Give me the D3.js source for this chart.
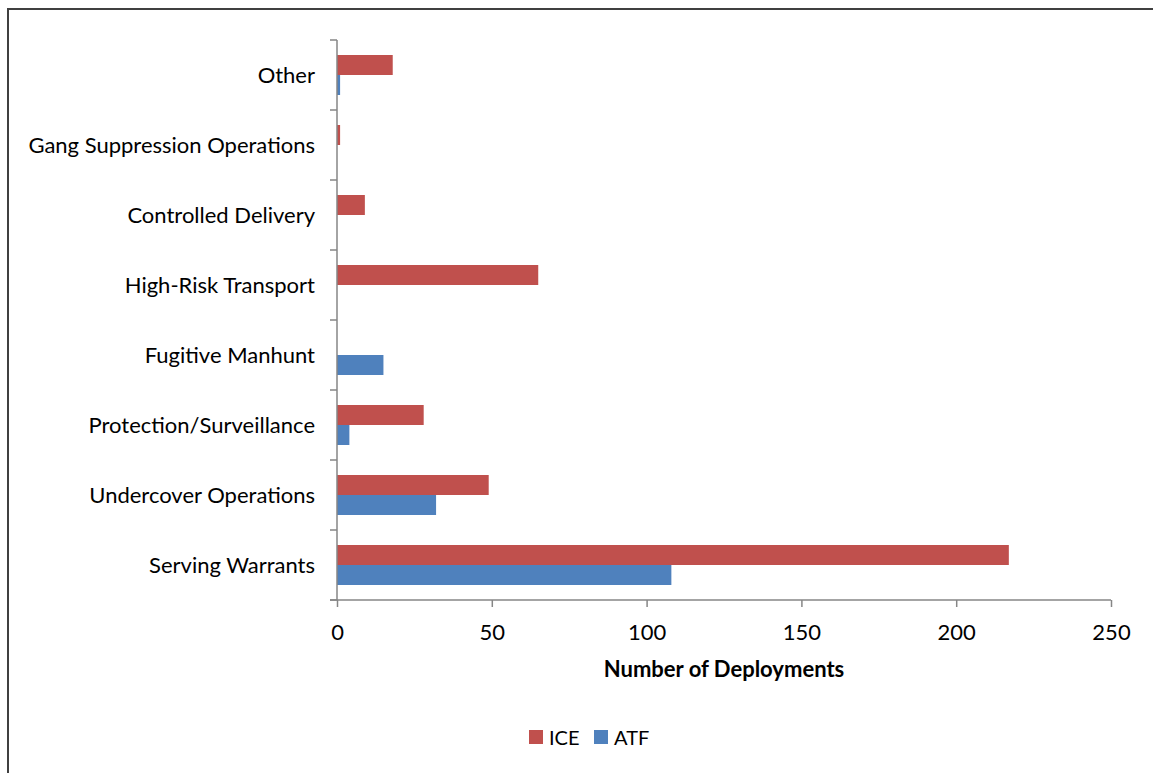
<!DOCTYPE html>
<html>
<head>
<meta charset="utf-8">
<script src="https://cdn.jsdelivr.net/npm/d3@7"></script>
<style>
  body { margin: 0; background: #fff; }
  svg { display: block; font-family: Lato, "Open Sans", "Liberation Sans", sans-serif; }
</style>
</head>
<body>
<svg width="1153" height="773"></svg>
<script>
// categories, bottom to top as in the chart
var categories = ["Serving Warrants", "Undercover Operations", "Protection/Surveillance",
  "Fugitive Manhunt", "High-Risk Transport", "Controlled Delivery",
  "Gang Suppression Operations", "Other"];
var iceValues = [217, 49, 28, 0, 65, 9, 1, 18];
var atfValues = [108, 32, 4, 15, 0, 0, 0, 1];
var seriesNames = ["ICE", "ATF"];
var seriesColors = ["#C0504D", "#4F81BD"];
var xTicks = [0, 50, 100, 150, 200, 250];

var svg = d3.select("svg");

// outer frame
svg.append("rect")
  .attr("x", 8).attr("y", 9)
  .attr("width", 1160).attr("height", 780)
  .attr("fill", "none")
  .attr("stroke", "#404040")
  .attr("stroke-width", 2);

var plotLeft = 337, plotRight = 1111, plotTop = 40, plotBottom = 600;

var x = d3.scaleLinear().domain([0, 250]).range([plotLeft, plotRight]);
var y = d3.scaleBand().domain(categories.slice().reverse()).range([plotTop, plotBottom]);
var inner = d3.scaleBand().domain(seriesNames).range([15, y.bandwidth() - 15]);

var data = categories.map(function(c, i) {
  return { cat: c, vals: [iceValues[i], atfValues[i]] };
});

var g = svg.append("g");

// bars
data.forEach(function(d) {
  d.vals.forEach(function(v, j) {
    if (v <= 0) return;
    g.append("rect")
      .attr("x", x(0))
      .attr("y", y(d.cat) + inner(seriesNames[j]))
      .attr("width", x(v) - x(0))
      .attr("height", inner.bandwidth())
      .attr("fill", seriesColors[j]);
  });
});

// y axis line and ticks (between categories)
g.append("line")
  .attr("x1", plotLeft).attr("x2", plotLeft)
  .attr("y1", plotTop).attr("y2", plotBottom)
  .attr("stroke", "#868686").attr("stroke-width", 1.5);

var yBoundaries = d3.range(categories.length + 1).map(function(i) { return plotTop + i * y.step(); });
g.selectAll(".ytick").data(yBoundaries).enter().append("line")
  .attr("x1", plotLeft - 7).attr("x2", plotLeft)
  .attr("y1", function(d) { return d; }).attr("y2", function(d) { return d; })
  .attr("stroke", "#868686").attr("stroke-width", 1.5);

g.selectAll(".ylab").data(categories).enter().append("text")
  .attr("x", 315)
  .attr("y", function(d) { return y(d) + y.bandwidth() / 2 - 1; })
  .attr("text-anchor", "end")
  .attr("dominant-baseline", "central")
  .attr("font-size", 22)
  .attr("fill", "#000")
  .text(function(d) { return d; });

// x axis
var xAxis = svg.append("g")
  .attr("transform", "translate(0," + plotBottom + ")")
  .call(d3.axisBottom(x).tickValues(xTicks).tickSize(7).tickPadding(17).tickFormat(d3.format("d")));
xAxis.select(".domain").attr("stroke", "#868686").attr("stroke-width", 1.5)
  .attr("d", "M" + (plotLeft - 7) + ",0H" + plotRight);
xAxis.selectAll(".tick line").attr("stroke", "#868686").attr("stroke-width", 1.5);
xAxis.selectAll(".tick text").attr("font-size", 22).attr("fill", "#000")
  .attr("font-family", "Lato, 'Open Sans', sans-serif");

svg.append("text")
  .attr("x", (plotLeft + plotRight) / 2)
  .attr("y", 668)
  .attr("text-anchor", "middle")
  .attr("dominant-baseline", "central")
  .attr("font-size", 22)
  .attr("font-weight", "bold")
  .text("Number of Deployments");

// legend
var legendX = [529, 594];
seriesNames.forEach(function(s, i) {
  svg.append("rect")
    .attr("x", legendX[i]).attr("y", 730)
    .attr("width", 14).attr("height", 14)
    .attr("fill", seriesColors[i]);
  svg.append("text")
    .attr("x", legendX[i] + 20).attr("y", 737)
    .attr("dominant-baseline", "central")
    .attr("font-size", 20)
    .text(s);
});
</script>
</body>
</html>
